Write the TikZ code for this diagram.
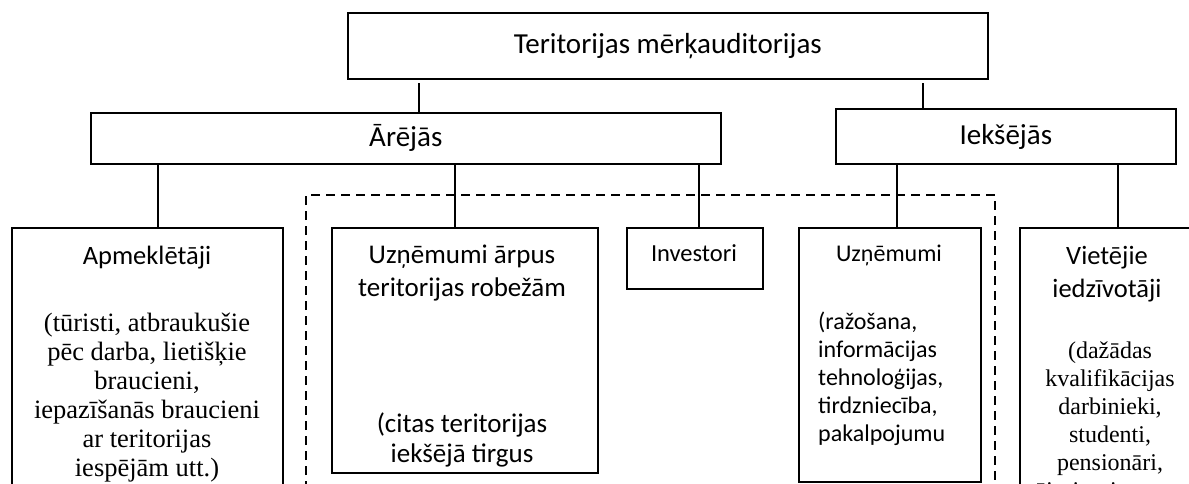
\documentclass[tikz,border=0pt]{standalone}
\usepackage{fontspec}
\setmainfont{Liberation Serif}
\newfontfamily\labelfont{Carlito}
\begin{document}
\begin{tikzpicture}[x=1pt,y=-1pt,
  frame/.style={draw, line width=1.6pt, inner sep=0pt, anchor=north west},
  link/.style={line width=1.6pt},
  groupline/.style={line width=1.4pt, dash pattern=on 9pt off 6pt},
  headtext/.style={font=\labelfont\fontsize{29}{34}\selectfont},
  title/.style={font=\labelfont\fontsize{#1}{30}\selectfont, anchor=base, inner sep=0pt},
  title/.default=25,
  sanslist/.style={font=\labelfont\fontsize{24}{28}\selectfont, anchor=base west, inner sep=0pt},
  seriflist/.style={font=\fontsize{26.5}{29}\selectfont, anchor=base, inner sep=0pt},
  serifsmall/.style={font=\fontsize{24}{28}\selectfont, anchor=base, inner sep=0pt}
]
\useasboundingbox (0,0) rectangle (1189,483);
\clip (0,0) rectangle (1189,483);

% top level
\node[frame, headtext, minimum width=640pt, minimum height=66pt] (top) at (347,12) {Teritorijas mērķauditorijas};

% second level
\node[frame, headtext, minimum width=630pt, minimum height=51pt] (ar) at (90,112) {Ārējās};
\node[frame, headtext, minimum width=340pt, minimum height=55pt, text depth=4pt] (ie) at (835,108) {Iekšējās};

\coordinate (j1) at (419,83);
\coordinate (j2) at (923,83);
\draw[link] (j1) -- (j1 |- ar.north);
\draw[link] (j2) -- (j2 |- ie.north);

% group of businesses and investors
\draw[groupline] (306,520) -- (306,195) -- (995,195) -- (995,520);

% third level boxes
\node[frame, minimum width=271pt, minimum height=320pt] (apm) at (11,227) {};
\node[frame, minimum width=266pt, minimum height=245pt] (uzar) at (331,227) {};
\node[frame, minimum width=136pt, minimum height=61pt] (inv) at (626,227) {};
\node[frame, minimum width=182pt, minimum height=254pt] (uzn) at (798,227) {};
\node[frame, minimum width=190pt, minimum height=300pt] (vie) at (1019,227) {};

\coordinate (k1) at (158,0);
\coordinate (k2) at (455,0);
\coordinate (k3) at (699,0);
\coordinate (k4) at (897,0);
\coordinate (k5) at (1118,0);
\draw[link] (k1 |- ar.south) -- (k1 |- apm.north);
\draw[link] (k2 |- ar.south) -- (k2 |- uzar.north);
\draw[link] (k3 |- ar.south) -- (k3 |- inv.north);
\draw[link] (k4 |- ie.south) -- (k4 |- uzn.north);
\draw[link] (k5 |- ie.south) -- (k5 |- vie.north);

% visitors
\node[title=26.5] (apm-t) at (147,264) {Apmeklētāji};
\foreach \t [count=\i] in {{(tūristi, atbraukušie},{pēc darba, lietišķie},{braucieni,},{iepazīšanās braucieni},{ar teritorijas},{iespējām utt.)}}
  \node[seriflist] (apm-l\i) at (147,{331+29*(\i-1)}) {\t};

% businesses outside the territory
\node[title=27] (uzar-t1) at (462,263) {Uzņēmumi ārpus};
\node[title=27] (uzar-t2) at (462,296) {teritorijas robežām};
\node[title=27] (uzar-l1) at (462,432) {(citas teritorijas};
\node[title=27] (uzar-l2) at (462,462) {iekšējā tirgus};

% investors
\node[title=24.5] (inv-t) at (694,261) {Investori};

% local businesses
\node[title=24] (uzn-t) at (889,261) {Uzņēmumi};
\foreach \t [count=\i] in {{(ražošana,},{informācijas},{tehnoloģijas,},{tirdzniecība,},{pakalpojumu}}
  \node[sanslist] (uzn-l\i) at (818,{329+28*(\i-1)}) {\t};

% local residents
\node[title=26.5] (vie-t1) at (1107,264) {Vietējie};
\node[title=26.5] (vie-t2) at (1107,297) {iedzīvotāji};
\foreach \t [count=\i] in {{(dažādas},{kvalifikācijas},{darbinieki,},{studenti,},{pensionāri,},{mājsaimnieces utt.)}}
  \node[serifsmall] (vie-l\i) at (1110,{358+28*(\i-1)}) {\t};
\end{tikzpicture}
\end{document}
